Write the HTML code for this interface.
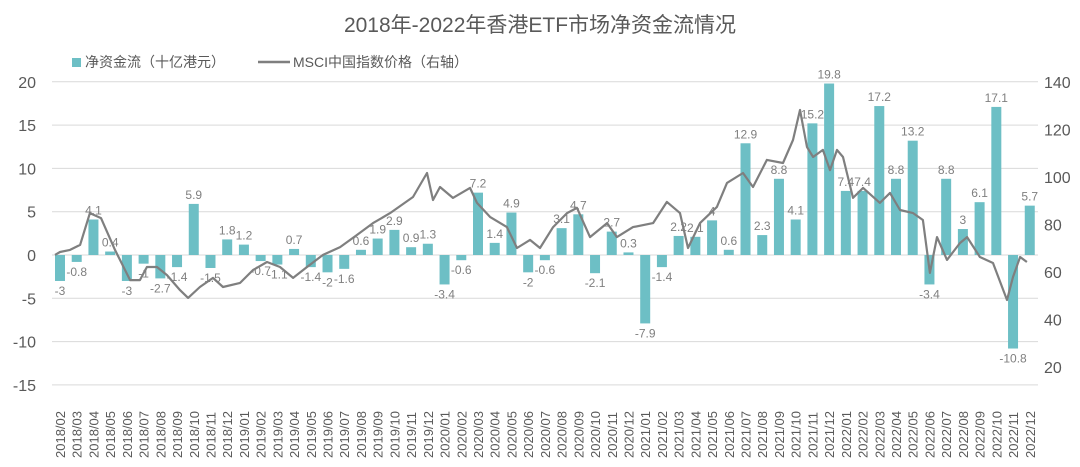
<!DOCTYPE html>
<html><head><meta charset="utf-8"><style>
body{margin:0;background:#fff;}
svg{display:block;font-family:"Liberation Sans","Noto Sans CJK SC",sans-serif;}
</style></head><body>
<svg id="chart" width="1080" height="467" viewBox="0 0 1080 467">
<text x="540" y="32" text-anchor="middle" font-size="21" fill="#595959">2018年-2022年香港ETF市场净资金流情况</text>
<g>
<rect x="72" y="58" width="9" height="9" fill="#6dbfc5"/>
<text x="85" y="67" font-size="14" fill="#595959">净资金流（十亿港元）</text>
<line x1="258" y1="62" x2="290" y2="62" stroke="#7f7f7f" stroke-width="2.5"/>
<text x="293" y="67" font-size="14" fill="#595959">MSCI中国指数价格（右轴）</text>
</g>
<g id="grid"></g><g id="bars"></g><g id="line"></g><g id="labels"></g><g id="axes"></g>
</svg>
<script>
const months=[];
for(let y=2018;y<=2022;y++){for(let m=1;m<=12;m++){if(y===2018&&m===1)continue;months.push(y+'/'+String(m).padStart(2,'0'));}}
const flows=[-3,-0.8,4.1,0.4,-3,-1,-2.7,-1.4,5.9,-1.5,1.8,1.2,-0.7,-1.1,0.7,-1.4,-2,-1.6,0.6,1.9,2.9,0.9,1.3,-3.4,-0.6,7.2,1.4,4.9,-2,-0.6,3.1,4.7,-2.1,2.7,0.3,-7.9,-1.4,2.2,2.1,4,0.6,12.9,2.3,8.8,4.1,15.2,19.8,7.4,7.4,17.2,8.8,13.2,-3.4,8.8,3,6.1,17.1,-10.8,5.7];
const leftTicks=[20,15,10,5,0,-5,-10,-15];
const rightTicks=[140,120,100,80,60,40,20];
const lineT=[-0.3,0,0.6,1.2,1.79,2.45,3.29,3.59,4.19,4.78,5.2,5.8,6.4,7.18,7.66,8.37,9.15,9.75,10.77,11.54,12.38,13.16,13.94,14.77,15.73,16.75,17.76,18.72,19.74,21.11,21.95,22.31,22.73,23.5,24.52,24.94,25.72,26.73,27.33,28.11,28.71,29.49,30.32,30.92,31.7,32.72,33.31,34.27,35.47,36.3,37.08,37.56,38.28,39.29,39.89,40.85,41.45,42.28,43.24,43.84,44.26,44.68,45.04,45.63,46.05,46.47,46.83,47.43,48.03,49.04,49.64,50.24,51.02,51.61,52.03,52.45,53.05,53.83,54.25,55.02,55.8,56.64,57,57.42,57.83];
const lineV=[67.2,68.4,69.3,71.4,84.8,82.7,69.3,65.1,56.6,56.6,62.1,62.1,58.7,52.4,49.1,53.7,57.5,53.7,55.4,60.8,64.2,62.1,57.5,62.1,67.2,70.5,75.6,80.6,84.8,91.6,101.7,90.3,95.8,91.2,95.4,89.1,83.2,78.9,70.1,73.5,70.1,78.9,84.8,87,74.7,80.6,74.7,78.9,80.6,89.5,84.8,70.1,80.6,87.4,97.5,101.7,95.8,107.2,105.9,115.6,128.2,112.6,108.4,111.4,102.9,111.4,108.4,91.2,95.4,89.1,93.3,86.1,84.8,81.9,59.6,74.7,65.1,72.2,74.7,66.3,63.8,48.2,57.9,66.3,64.2];
const NS='http://www.w3.org/2000/svg';
const x0=60,dx=16.72;
const xS=i=>x0+i*dx;
const yL=v=>255-v*8.66;
const yR=v=>367-(v-20)*2.375;
function mk(tag,attrs,parent,text){const e=document.createElementNS(NS,tag);for(const k in attrs)e.setAttribute(k,attrs[k]);if(text!==undefined)e.textContent=text;document.getElementById(parent).appendChild(e);return e;}
leftTicks.forEach(v=>{
 const g=mk('line',{x1:52,x2:1038,y1:yL(v),y2:yL(v),stroke:'#d9d9d9','stroke-width':1},'grid');
 
 
 const t=mk('text',{x:36,y:yL(v)+6,'text-anchor':'end','font-size':16,fill:'#595959'},'axes',String(v));
 
 
});
rightTicks.forEach(v=>{
 const t=mk('text',{x:1044,y:yR(v)+6,'font-size':16,fill:'#595959'},'axes',String(v));
 
 
});
flows.forEach((v,i)=>{
 const x=xS(i),y0=yL(0),y1=yL(v);
 const r=mk('rect',{x:x-5,y:Math.min(y0,y1),width:10,height:Math.max(1,Math.abs(y1-y0)),fill:'#6dbfc5'},'bars');
 
 
 const ly=v>=0?y1-5:y1+14;
 const t=mk('text',{x:x,y:ly,'text-anchor':'middle','font-size':12,fill:'#7f7f7f'},'labels',String(v));
 
 
 const xl=mk('text',{transform:'translate('+(x+5)+',458) rotate(-90)','font-size':13,fill:'#595959'},'axes',months[i]);
 
 
});
const pts=lineT.map((t,i)=>xS(t).toFixed(1)+','+yR(lineV[i]).toFixed(1)).join(' ');
const pl=mk('polyline',{points:pts,fill:'none',stroke:'#7f7f7f','stroke-width':2.2,'stroke-linejoin':'round'},'line');


</script>
</body></html>
